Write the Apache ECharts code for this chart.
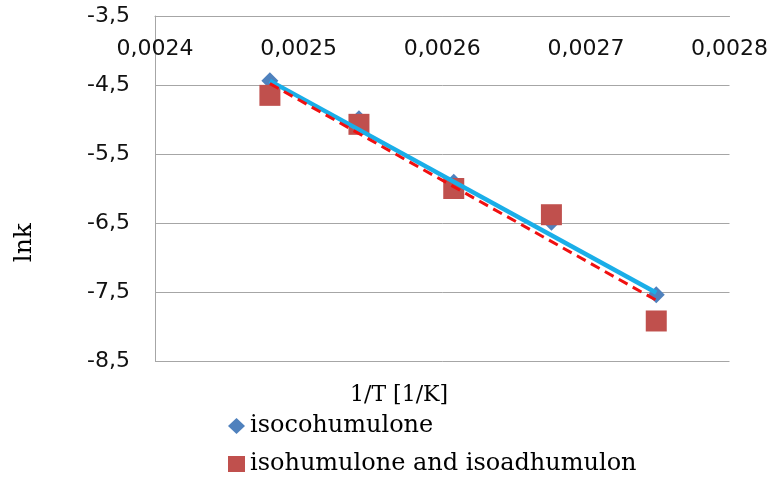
<!DOCTYPE html>
<html>
<head>
<meta charset="utf-8">
<script src="https://cdn.jsdelivr.net/npm/echarts@6/dist/echarts.min.js"></script>
<style>html,body{margin:0;padding:0;background:#fff;}#c{width:771px;height:479px;}</style>
</head>
<body>
<div id="c"></div>
<script>
// 1/T values [1/K]
var invT = [0.002480, 0.002542, 0.002608, 0.002676, 0.002749];
// lnk values
var isocohumulone = [-4.44, -4.99, -5.91, -6.49, -7.54];
var isohumulone = [-4.65, -5.07, -6.00, -6.38, -7.92];
// linear trendline end points
var trendX = [0.002480, 0.002749];
var trendIsoco = [-4.44, -7.51];
var trendIsohum = [-4.48, -7.62];
var seriesNames = ['isocohumulone', 'isohumulone and isoadhumulon'];
var xTicks = { min: 0.0024, max: 0.0028, step: 0.0001 };
var yTicks = { min: -8.5, max: -3.5, step: 1 };

function pairs(xs, ys) { return xs.map(function (x, i) { return [x, ys[i]]; }); }
function comma(v, d) { return v.toFixed(d).replace('.', ','); }

var chart = echarts.init(document.getElementById('c'));
chart.setOption({
  animation: false,
  backgroundColor: '#fff',
  grid: { left: 155, right: 33, top: 16, bottom: 118 },
  xAxis: {
    type: 'value', position: 'top',
    min: xTicks.min, max: xTicks.max, interval: xTicks.step,
    axisLine: { show: true, lineStyle: { color: '#a6a6a6', width: 1 } },
    axisTick: { show: false },
    splitLine: { show: false },
    axisLabel: {
      inside: true, margin: 22, color: '#111',
      fontFamily: 'DejaVu Sans', fontSize: 22,
      formatter: function (v) { return comma(v, 4); }
    }
  },
  yAxis: {
    type: 'value',
    min: yTicks.min, max: yTicks.max, interval: yTicks.step / 2,
    axisLine: { show: true, lineStyle: { color: '#a6a6a6', width: 1 } },
    axisTick: { show: false },
    splitLine: { show: true, lineStyle: { color: ['#a6a6a6', 'rgba(0,0,0,0)'], width: 1 } },
    axisLabel: {
      margin: 25, color: '#111', fontFamily: 'DejaVu Sans', fontSize: 22,
      formatter: function (v) {
        return Math.abs(Math.round(v * 2)) % 2 === 1 ? comma(v, 1) : '';
      }
    }
  },
  legend: {
    orient: 'vertical', left: 223, top: 409, height: 200,
    itemWidth: 17, itemHeight: 16, itemGap: 14,
    textStyle: { fontFamily: 'DejaVu Serif', fontSize: 24, color: '#000' },
    data: [
      { name: seriesNames[0], icon: 'diamond' },
      { name: seriesNames[1], icon: 'rect' }
    ]
  },
  graphic: [
    { type: 'text', left: 12, top: 223, rotation: Math.PI / 2,
      style: { text: 'lnk', fontFamily: 'DejaVu Serif', fontSize: 25, fill: '#000' } },
    { type: 'text', left: 350, top: 384,
      style: { text: '1/T [1/K]', fontFamily: 'DejaVu Serif', fontSize: 22, fill: '#000' } }
  ],
  series: [
    { name: seriesNames[0], type: 'scatter', symbol: 'diamond', symbolSize: 17,
      itemStyle: { color: '#4F81BD', opacity: 1 }, data: pairs(invT, isocohumulone), z: 2 },
    { name: seriesNames[1], type: 'scatter', symbol: 'rect', symbolSize: 21,
      itemStyle: { color: '#C0504D', opacity: 1 }, data: pairs(invT, isohumulone), z: 3 },
    { name: 'trend1', type: 'line', showSymbol: false, symbol: 'none',
      lineStyle: { color: '#1AAEE8', width: 4.5 }, data: pairs(trendX, trendIsoco), z: 4 },
    { name: 'trend2', type: 'line', showSymbol: false, symbol: 'none',
      lineStyle: { color: '#F01010', width: 3, type: [10, 6] }, data: pairs(trendX, trendIsohum), z: 5 }
  ]
});
</script>
</body>
</html>
